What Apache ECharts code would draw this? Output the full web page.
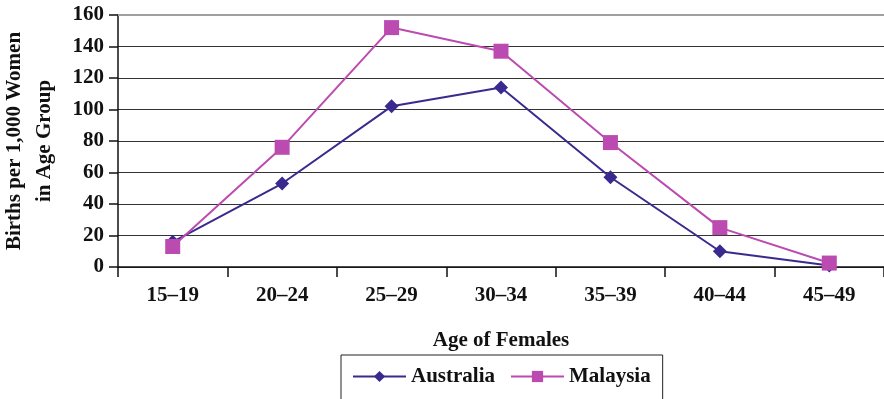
<!DOCTYPE html>
<html>
<head>
<meta charset="utf-8">
<script src="https://cdn.jsdelivr.net/npm/echarts@6/dist/echarts.min.js"></script>
<style>
  html, body { margin: 0; padding: 0; background: #fff; }
  #chart { width: 884px; height: 399px; }
</style>
</head>
<body>
<div id="chart"></div>
<script>
// Age-specific fertility: births per 1,000 women by age group
const ageGroups = ['15–19', '20–24', '25–29', '30–34', '35–39', '40–44', '45–49'];
const australia = [16, 53, 102, 114, 57, 10, 1];
const malaysia = [13, 76, 152, 137, 79, 25, 2.5];
const yTicks = { min: 0, max: 160, interval: 20 };

const serif = '"Liberation Serif", "DejaVu Serif", serif';
const fontSize = 21;
const chart = echarts.init(document.getElementById('chart'), null, { renderer: 'canvas' });

chart.setOption({
  animation: false,
  textStyle: { fontFamily: serif },
  grid: { left: 118, right: 0, top: 15, bottom: 132, containLabel: false, outerBoundsMode: 'none' },
  xAxis: {
    type: 'category',
    data: ageGroups,
    boundaryGap: true,
    name: 'Age of Females',
    nameLocation: 'middle',
    nameGap: 63,
    nameTextStyle: { fontFamily: serif, fontWeight: 'bold', fontSize: fontSize, color: '#111' },
    axisLine: { lineStyle: { color: '#111', width: 1.5 } },
    axisTick: { show: true, length: 10, alignWithLabel: false, lineStyle: { color: '#111', width: 1.5 } },
    axisLabel: { fontFamily: serif, fontWeight: 'bold', fontSize: fontSize, color: '#111', margin: 18 },
    splitLine: { show: false }
  },
  yAxis: {
    type: 'value',
    min: yTicks.min,
    max: yTicks.max,
    interval: yTicks.interval,
    name: 'Births per 1,000 Women\nin Age Group',
    nameLocation: 'middle',
    nameRotate: 90,
    nameGap: 58,
    nameTextStyle: { fontFamily: serif, fontWeight: 'bold', fontSize: fontSize, color: '#111', lineHeight: 30 },
    axisLine: { show: true, lineStyle: { color: '#111', width: 1.5 } },
    axisTick: { show: true, length: 9, lineStyle: { color: '#111', width: 1.5 } },
    axisLabel: { fontFamily: serif, fontWeight: 'bold', fontSize: fontSize, color: '#111', margin: 14 },
    splitLine: {
      show: true,
      lineStyle: {
        color: ['#333', '#333', '#333', '#333', '#333', '#333', '#333', '#333', '#999'],
        width: 1
      }
    }
  },
  legend: {
    left: 341,
    top: 355,
    padding: [11, 12, 24, 11],
    borderColor: '#222',
    borderWidth: 1,
    itemWidth: 53,
    itemHeight: 14,
    itemGap: 15,
    textStyle: { fontFamily: serif, fontWeight: 'bold', fontSize: fontSize, color: '#111', padding: [0, 0, 0, 0] },
    data: ['Australia', 'Malaysia']
  },
  series: [
    {
      name: 'Australia',
      type: 'line',
      data: australia,
      symbol: 'diamond',
      symbolSize: 14,
      lineStyle: { color: '#3b2a8e', width: 2 },
      itemStyle: { color: '#3b2a8e' },
      z: 2,
      markLine: {
        silent: true,
        symbol: 'none',
        label: { show: false },
        lineStyle: { color: '#a0a0a0', width: 2, type: 'solid' },
        data: [{ yAxis: yTicks.max }]
      }
    },
    {
      name: 'Malaysia',
      type: 'line',
      data: malaysia,
      symbol: 'rect',
      symbolSize: 15,
      lineStyle: { color: '#bb4bb0', width: 2 },
      itemStyle: { color: '#bb4bb0' },
      z: 3
    }
  ]
});
</script>
</body>
</html>
